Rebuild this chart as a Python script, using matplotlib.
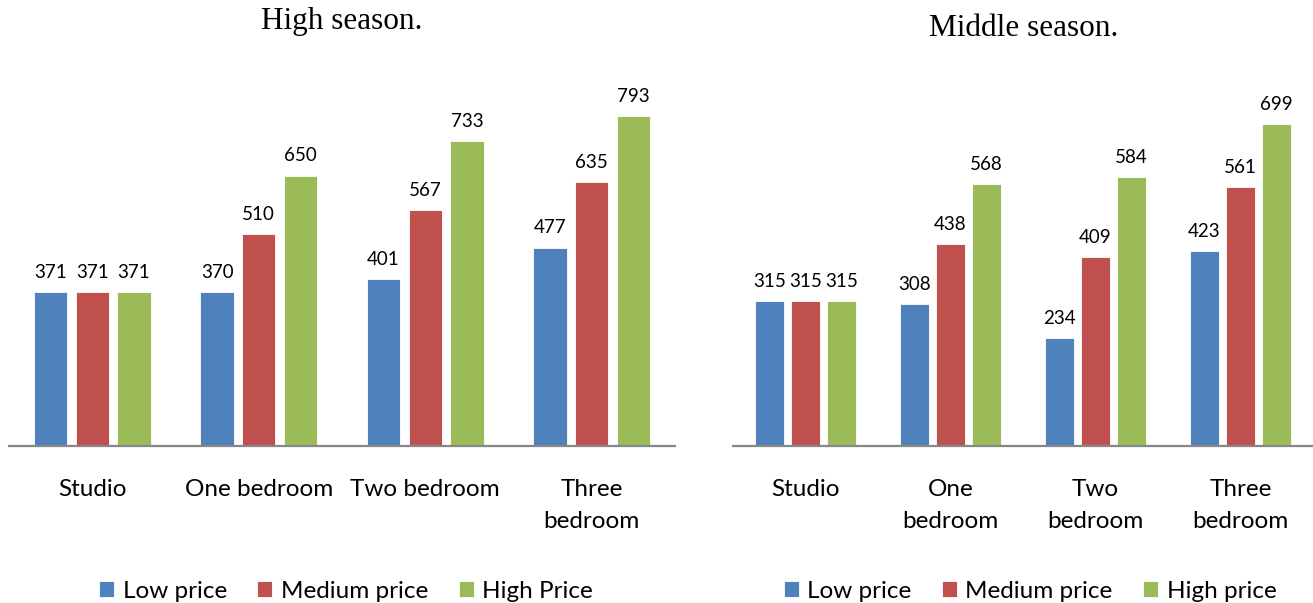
import matplotlib.pyplot as plt
import numpy as np

plt.rcParams['font.family'] = ['Lato', 'DejaVu Sans']

# price per apartment type
high_categories = ['Studio', 'One bedroom', 'Two bedroom', 'Three\nbedroom']
high_low = [371, 370, 401, 477]
high_medium = [371, 510, 567, 635]
high_high = [371, 650, 733, 793]
high_legend = ['Low price', 'Medium price', 'High Price']

mid_categories = ['Studio', 'One\nbedroom', 'Two\nbedroom', 'Three\nbedroom']
mid_low = [315, 308, 234, 423]
mid_medium = [315, 438, 409, 561]
mid_high = [315, 568, 584, 699]
mid_legend = ['Low price', 'Medium price', 'High price']

colors = ['#4F81BD', '#C0504D', '#9BBB59']

W, H = 1313, 603
fig = plt.figure(figsize=(W / 100, H / 100), dpi=100)


def px_axes(x0, x1, y_base, y_top):
    return fig.add_axes([x0 / W, (H - y_base) / H, (x1 - x0) / W, (y_base - y_top) / H])


def draw(ax, cats, series, ymax, labels, title, title_xy, legend_x):
    x = np.arange(len(cats))
    handles = []
    for i, (vals, c) in enumerate(zip(series, colors)):
        bars = ax.bar(x + (i - 1) * 0.25, vals, width=0.2, color=c,
                      edgecolor='white', linewidth=0.6, label=labels[i])
        ax.bar_label(bars, padding=8, fontsize=13.5, color='#000000')
        handles.append(bars)
    ax.set_xlim(-0.5, len(cats) - 0.5)
    ax.set_ylim(0, ymax)
    ax.set_xticks(x)
    ax.set_xticklabels(cats, fontsize=17.5, linespacing=1.6)
    ax.tick_params(axis='x', length=0, pad=24)
    ax.set_yticks([])
    for s in ['top', 'left', 'right']:
        ax.spines[s].set_visible(False)
    ax.spines['bottom'].set_color('#878787')
    ax.spines['bottom'].set_linewidth(1.6)
    fig.text(title_xy[0] / W, 1 - title_xy[1] / H, title, ha='center', va='center',
             fontsize=22.5, family='Liberation Serif')
    fig.legend(handles, labels, loc='center', bbox_to_anchor=(legend_x / W, 1 - 591 / H),
               ncol=3, frameon=False, fontsize=17.5, handlelength=0.62,
               handleheight=0.62, handletextpad=0.35, columnspacing=1.25)


ax1 = px_axes(9, 675, 446, 60)
draw(ax1, high_categories, [high_low, high_medium, high_high], 386 / 0.416,
     high_legend, 'High season.', (342, 22), 346)

ax2 = px_axes(733, 1313, 446, 60)
draw(ax2, mid_categories, [mid_low, mid_medium, mid_high], 386 / 0.461,
     mid_legend, 'Middle season.', (1024, 28), 1030)

fig.savefig('out.png', dpi=100)
